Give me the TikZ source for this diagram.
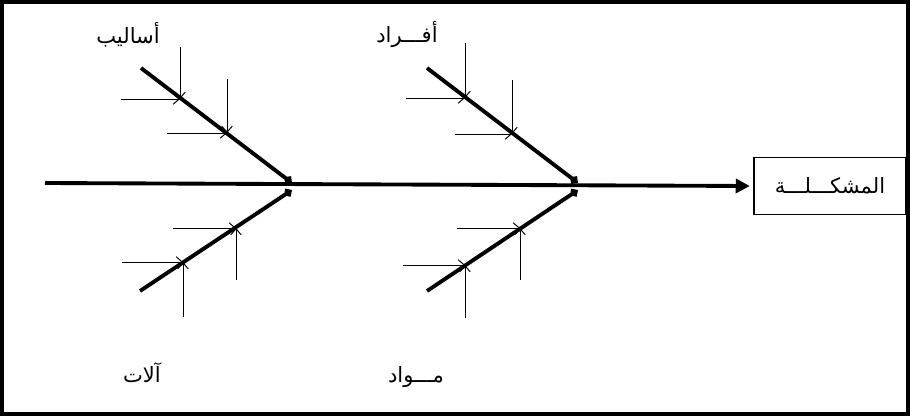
\documentclass[tikz,border=0pt]{standalone}
\usepackage{fontspec}
\newfontfamily\arabicfont[Script=Arabic]{DejaVu Sans}
\TeXXeTstate=1
\usetikzlibrary{arrows.meta}

\begin{document}
\begin{tikzpicture}[x=0.02cm,y=-0.02cm,
  causetext/.style={font=\arabicfont\fontsize{12}{14}\selectfont,inner sep=1pt},
  probbox/.style={draw,line width=0.8pt,minimum width=3.04cm,minimum height=1.14cm,
              font=\arabicfont\fontsize{12}{14}\selectfont},
  spine/.style={line width=2.2pt,-{Triangle[length=8pt,width=8pt]}},
  bone/.style={line width=2.2pt,-{Straight Barb[length=2pt,width=4pt]}},
  twig/.style={line width=0.55pt,-{Straight Barb[length=3.5pt,width=6pt]}}]
  \useasboundingbox (0,0) rectangle (910,416);
  \draw[line width=2.4pt] (2,2) rectangle (908,414);

  % problem box and spine
  \node[probbox] (prob) at (830,186) {\beginR المشكـــلـــة\endR};
  \coordinate (tail) at (45,183);
  \draw[spine] (tail) -- ([xshift=-2pt]prob.west);

  % main bones
  \coordinate (mt) at (141,68);  \coordinate (mh) at (292,183);
  \coordinate (pt) at (427,68);  \coordinate (ph) at (578,183);
  \coordinate (at) at (140,291); \coordinate (ah) at (292,190);
  \coordinate (rt) at (427,291); \coordinate (rh) at (578,190);
  \draw[bone] (mt) -- (mh);
  \draw[bone] (pt) -- (ph);
  \draw[bone] (at) -- (ah);
  \draw[bone] (rt) -- (rh);

  % cause labels
  \node[causetext] (lblM) at (128,35)  {\beginR أساليب\endR};
  \node[causetext] (lblP) at (407,35)  {\beginR أفـــراد\endR};
  \node[causetext] (lblA) at (142,373) {\beginR آلات\endR};
  \node[causetext] (lblR) at (416,377) {\beginR مـــواد\endR};

  % sub causes
  \coordinate (m1) at (180,99);  \coordinate (m2) at (227,133);
  \coordinate (p1) at (465,98);  \coordinate (p2) at (512,134);
  \coordinate (a1) at (183,262); \coordinate (a2) at (236,228);
  \coordinate (r1) at (465,265); \coordinate (r2) at (520,228);
  \draw[twig] (m1) ++(0,-52) -- (m1);
  \draw[twig] (m1) ++(-59,0) -- (m1);
  \draw[twig] (m2) ++(0,-54) -- (m2);
  \draw[twig] (m2) ++(-60,0) -- (m2);
  \draw[twig] (p1) ++(0,-55) -- (p1);
  \draw[twig] (p1) ++(-59,0) -- (p1);
  \draw[twig] (p2) ++(0,-54) -- (p2);
  \draw[twig] (p2) ++(-57,0) -- (p2);
  \draw[twig] (a1) ++(0,55) -- (a1);
  \draw[twig] (a1) ++(-61,0) -- (a1);
  \draw[twig] (a2) ++(0,52) -- (a2);
  \draw[twig] (a2) ++(-63,0) -- (a2);
  \draw[twig] (r1) ++(0,53) -- (r1);
  \draw[twig] (r1) ++(-62,0) -- (r1);
  \draw[twig] (r2) ++(0,52) -- (r2);
  \draw[twig] (r2) ++(-63,0) -- (r2);
\end{tikzpicture}
\end{document}
